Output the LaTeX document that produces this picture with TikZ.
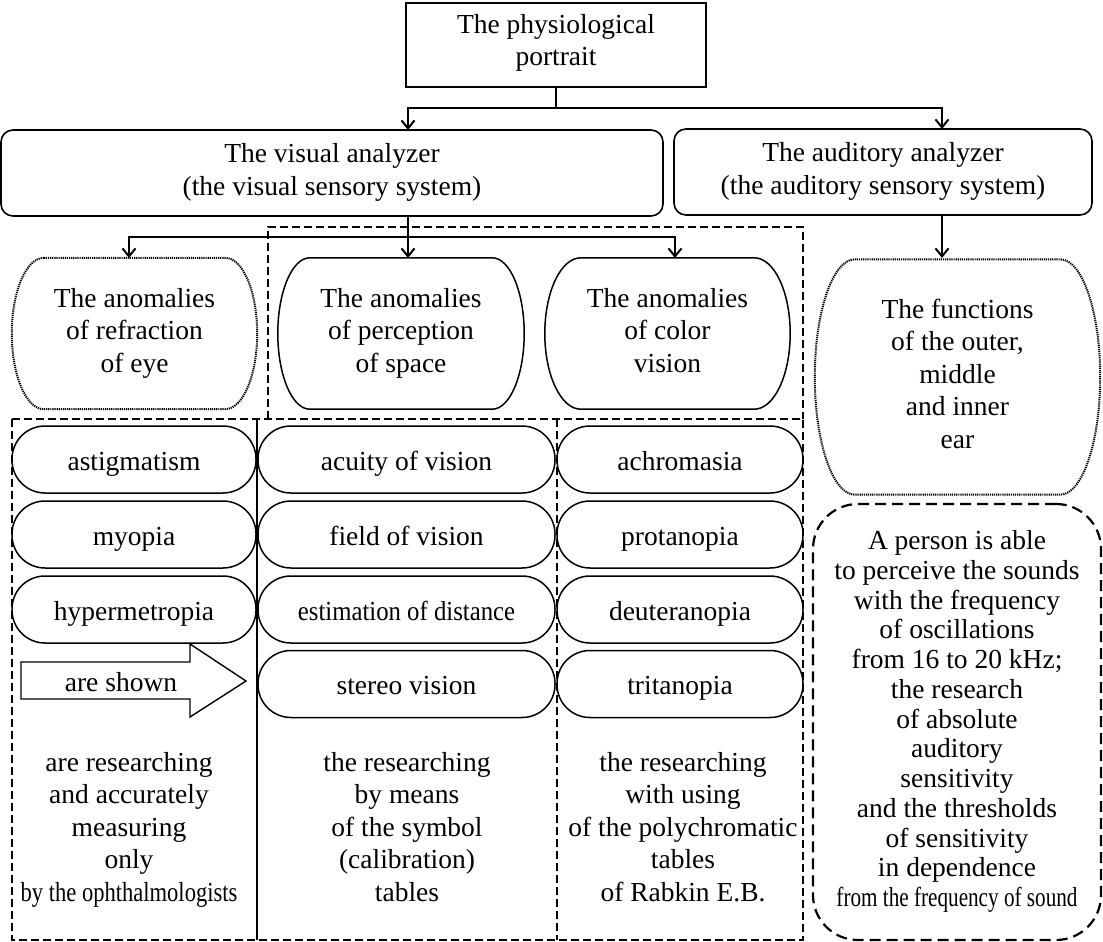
\documentclass[tikz,border=0pt]{standalone}
\usepackage{fontspec}
\setmainfont{Liberation Serif}
\usepackage{graphicx}
\usetikzlibrary{arrows.meta, calc}
\newcommand{\bodyfont}{\fontsize{27.5}{32.5}\selectfont}
\newcommand{\densefont}{\fontsize{27.5}{29.75}\selectfont}
\newcommand{\topstrut}{\rule{0pt}{28pt}}
\newcommand{\botstrut}{\rule[-7pt]{0pt}{7pt}}
% outline with flat top and bottom and half-elliptic sides
\newcommand{\bulgeline}[3]{%
  \draw[#3] let \p1=(#1.north west), \p2=(#1.south east), \n1={(\y1-\y2)/2} in
    (\x1+#2pt,\y1) -- (\x2-#2pt,\y1)
    arc[start angle=90, end angle=-90, x radius=#2pt, y radius=\n1]
    -- (\x1+#2pt,\y2)
    arc[start angle=270, end angle=90, x radius=#2pt, y radius=\n1] -- cycle;}

\begin{document}
\begin{tikzpicture}[x=1pt, y=-1pt,
  every node/.style={font=\bodyfont, align=center, inner sep=0pt,
    execute at begin node=\topstrut, execute at end node=\botstrut},
  plainbox/.style={draw, line width=1.8pt, minimum width=300pt, minimum height=84pt,
    execute at begin node=\strut, execute at end node=\strut},
  analyzer/.style={draw, line width=1.6pt, rounded corners=12pt, minimum height=86pt},
  anomaly/.style={minimum height=151pt},
  pill/.style={draw, line width=1.5pt, rounded corners=33pt, minimum height=67pt},
  conn/.style={line width=1.4pt},
  arr/.style={conn, -{Straight Barb[length=8pt, width=13pt, line width=2pt]}},
  boxdash/.style={line width=2pt, dash pattern=on 8pt off 4pt},
  dotline/.style={line width=2pt, dash pattern=on 1.2pt off 0.9pt},
  softdash/.style={draw, line width=2.2pt, dash pattern=on 11pt off 6pt, rounded corners=45pt}]
  \useasboundingbox (0,0) rectangle (1103,942);

  % Top of the tree
  \node[plainbox] (portrait) at (556,45) {The physiological\\portrait};
  \node[analyzer, minimum width=662pt] (visual) at (332,173) {The visual analyzer\\(the visual sensory system)};
  \node[analyzer, minimum width=418pt] (audit) at (883,172) {The auditory analyzer\\(the auditory sensory system)};

  \coordinate (split) at (556,108);
  \coordinate (visin) at (408,130);
  \coordinate (audin) at (942,129);
  \draw[conn] (portrait.south) -- (split);
  \draw[arr] (split) -| (visin);
  \draw[arr] (split) -| (audin);

  % Dashed frames of the columns
  \draw[boxdash] (268,419) -- (268,227) -- (803,227) -- (803,419);
  \draw[boxdash] (12,419) rectangle (803,940);
  \draw[boxdash] (557,419) -- (557,940);
  \draw[line width=1.8pt] (257,419) -- (257,940);

  % The anomalies
  \node[anomaly, minimum width=245pt] (refr) at (134.5,333.5) {The anomalies\\of refraction\\of eye};
  \node[anomaly, minimum width=246pt] (perc) at (401,333.5) {The anomalies\\of perception\\of space};
  \node[anomaly, minimum width=245pt] (colr) at (667.5,333.5) {The anomalies\\of color\\vision};
  \bulgeline{refr}{32}{dotline}
  \bulgeline{perc}{32}{line width=1.5pt}
  \bulgeline{colr}{36}{line width=1.5pt}

  \coordinate (visout) at (408,216);
  \coordinate (fork) at (408,237);
  \coordinate (refrin) at (129,258);
  \coordinate (percin) at (408,258);
  \coordinate (colin) at (675,258);
  \draw[conn] (visout) -- (fork);
  \draw[arr] (fork) -| (refrin);
  \draw[arr] (fork) -- (percin);
  \draw[arr] (fork) -| (colin);

  % Ear branch
  \node[minimum width=285pt, minimum height=235pt] (func) at (957.5,377) {The functions\\of the outer,\\middle\\and inner\\ear};
  \bulgeline{func}{40}{dotline}
  \coordinate (audout) at (942,215);
  \coordinate (funcin) at (942,258);
  \draw[arr] (audout) -- (funcin);
  \node[softdash, minimum width=288pt, minimum height=436pt, font=\densefont] (sound) at (957,722)
    {A person is able\\to perceive the sounds\\with the frequency\\of oscillations\\from 16 to 20 kHz;\\the research\\of absolute\\auditory\\sensitivity\\and the thresholds\\of sensitivity\\in dependence\\\scalebox{0.77}[1]{from the frequency of sound}};

  % Rows of the columns
  \foreach \txt/\y [count=\i] in {astigmatism/459.5, myopia/534.5, hypermetropia/609.5}
    \node[pill, minimum width=244pt] (refr\i) at (134,\y) {\txt};
  \foreach \txt/\y [count=\i] in {acuity of vision/459.5, field of vision/534.5, {\scalebox{0.9}[1]{estimation of distance}}/609.5, stereo vision/684}
    \node[pill, minimum width=297pt] (perc\i) at (406.5,\y) {\txt};
  \foreach \txt/\y [count=\i] in {achromasia/459.5, protanopia/534.5, deuteranopia/609.5, tritanopia/684}
    \node[pill, minimum width=246pt] (colr\i) at (680,\y) {\txt};

  % Block arrow
  \node (shown) at (121,681) {are shown};
  \draw[line width=1.4pt] (21,662) -- (190,662) -- (190,644) -- (246,681) -- (190,717) -- (190,699) -- (21,699) -- cycle;

  % Notes below the rows
  \node (refrnote) at (129,830) {are researching\\and accurately\\measuring\\only\\\scalebox{0.82}[1]{by the ophthalmologists}};
  \node (percnote) at (407,830) {the researching\\by means\\of the symbol\\(calibration)\\tables};
  \node (colnote) at (683,830) {the researching\\with using\\of the polychromatic\\tables\\of Rabkin E.B.};
\end{tikzpicture}
\end{document}
